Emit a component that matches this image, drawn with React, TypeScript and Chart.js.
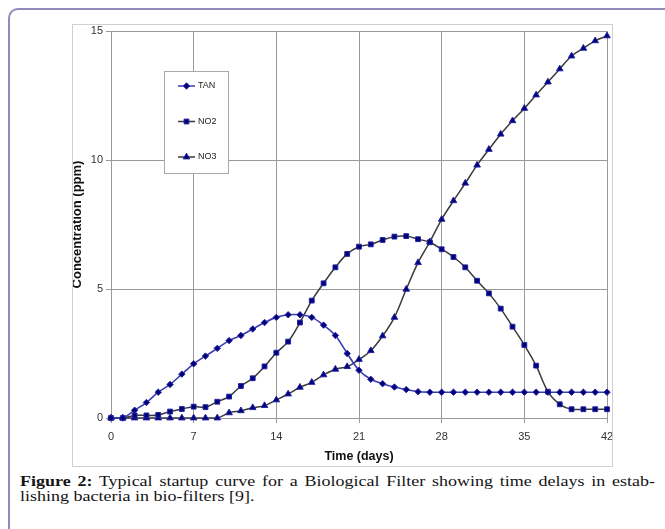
import React, { useEffect, useRef } from "react";
import { Chart, registerables } from "chart.js";

Chart.register(...registerables);

const days = [
  0, 1, 2, 3, 4, 5, 6, 7, 8, 9, 10, 11, 12, 13, 14, 15, 16, 17, 18, 19, 20,
  21, 22, 23, 24, 25, 26, 27, 28, 29, 30, 31, 32, 33, 34, 35, 36, 37, 38, 39,
  40, 41, 42,
];

const tan = [
  0, 0, 0.3, 0.6, 1.0, 1.3, 1.7, 2.1, 2.4, 2.7, 3.0, 3.2, 3.45, 3.7, 3.9, 4.0,
  4.0, 3.9, 3.6, 3.2, 2.5, 1.85, 1.5, 1.33, 1.2, 1.1, 1.02, 1.0, 1.0, 1.0, 1.0,
  1.0, 1.0, 1.0, 1.0, 1.0, 1.0, 1.0, 1.0, 1.0, 1.0, 1.0, 1.0,
];

const no2 = [
  0, 0, 0.1, 0.1, 0.12, 0.25, 0.35, 0.44, 0.42, 0.63, 0.83, 1.24, 1.54, 2.0,
  2.53, 2.96, 3.7, 4.55, 5.22, 5.84, 6.36, 6.64, 6.73, 6.9, 7.03, 7.05, 6.93,
  6.81, 6.54, 6.24, 5.84, 5.32, 4.83, 4.24, 3.54, 2.83, 2.03, 1.02, 0.53, 0.34,
  0.34, 0.34, 0.34,
];

const no3 = [
  0, 0, 0, 0, 0, 0, 0, 0, 0, 0, 0.2, 0.28, 0.4, 0.48, 0.7, 0.93, 1.19, 1.38,
  1.67, 1.89, 1.99, 2.27, 2.61, 3.18, 3.9, 4.99, 6.02, 6.83, 7.7, 8.42, 9.1,
  9.8, 10.41, 11.0, 11.52, 12.0, 12.52, 13.02, 13.53, 14.03, 14.33, 14.62,
  14.81,
];

const seriesNames = ["TAN", "NO2", "NO3"];
const xTicks = [0, 7, 14, 21, 28, 35, 42];
const yTicks = [0, 5, 10, 15];

const FAMILY = '"Liberation Sans", Arial, sans-serif';
const GRID = "#9a9a9a";
const MARK_FILL = "#00007a";
const MARK_EDGE = "#2424a0";

function drawMarker(ctx: CanvasRenderingContext2D, style: string, x: number, y: number, r: number) {
  ctx.beginPath();
  if (style === "rectRot") {
    ctx.moveTo(x, y - r);
    ctx.lineTo(x + r, y);
    ctx.lineTo(x, y + r);
    ctx.lineTo(x - r, y);
    ctx.closePath();
  } else if (style === "rect") {
    const s = r * Math.SQRT1_2;
    ctx.rect(x - s, y - s, 2 * s, 2 * s);
  } else {
    ctx.moveTo(x, y - r);
    ctx.lineTo(x + r * 0.87, y + r * 0.5);
    ctx.lineTo(x - r * 0.87, y + r * 0.5);
    ctx.closePath();
  }
  ctx.fillStyle = MARK_FILL;
  ctx.strokeStyle = MARK_EDGE;
  ctx.lineWidth = 1;
  ctx.fill();
  ctx.stroke();
}

const boxLegend = {
  id: "boxLegend",
  beforeDatasetsDraw(chart: any) {
    const { ctx, chartArea } = chart;
    const x = chartArea.left + 53;
    const y = chartArea.top + 40;
    const w = 64;
    const h = 102;
    ctx.save();
    ctx.fillStyle = "#ffffff";
    ctx.fillRect(x, y, w, h);
    ctx.strokeStyle = "#a8a8a8";
    ctx.lineWidth = 1;
    ctx.strokeRect(x + 0.5, y + 0.5, w, h);
    chart.data.datasets.forEach((ds: any, i: number) => {
      const cy = y + 15 + i * 35.5;
      ctx.strokeStyle = ds.borderColor;
      ctx.lineWidth = 1.5;
      ctx.beginPath();
      ctx.moveTo(x + 14, cy);
      ctx.lineTo(x + 31, cy);
      ctx.stroke();
      drawMarker(ctx, ds.pointStyle, x + 22.5, cy, ds.pointRadius);
      ctx.fillStyle = "#222";
      ctx.font = `9px ${FAMILY}`;
      ctx.textBaseline = "middle";
      ctx.textAlign = "left";
      ctx.fillText(ds.label, x + 34, cy);
    });
    ctx.restore();
  },
};

export default function App() {
  const ref = useRef<HTMLCanvasElement>(null);

  useEffect(() => {
    const mk = (vals: number[]) => days.map((d, i) => ({ x: d, y: vals[i] }));
    const chart = new Chart(ref.current as HTMLCanvasElement, {
      type: "line",
      data: {
        datasets: [
          {
            label: seriesNames[0],
            data: mk(tan),
            borderColor: "#3c3cb4",
            borderWidth: 1.6,
            pointStyle: "rectRot",
            pointRadius: 3.2,
            pointBackgroundColor: MARK_FILL,
            pointBorderColor: MARK_EDGE,
            pointBorderWidth: 1,
            tension: 0.35,
            clip: false,
          },
          {
            label: seriesNames[1],
            data: mk(no2),
            borderColor: "#3a3a3a",
            borderWidth: 1.5,
            pointStyle: "rect",
            pointRadius: 3.4,
            pointBackgroundColor: MARK_FILL,
            pointBorderColor: MARK_EDGE,
            pointBorderWidth: 1,
            tension: 0.35,
            clip: false,
          },
          {
            label: seriesNames[2],
            data: mk(no3),
            borderColor: "#3a3a3a",
            borderWidth: 1.5,
            pointStyle: "triangle",
            pointRadius: 3.8,
            pointBackgroundColor: MARK_FILL,
            pointBorderColor: MARK_EDGE,
            pointBorderWidth: 1,
            tension: 0.35,
            clip: false,
          },
        ] as any,
      },
      options: {
        animation: false,
        responsive: false,
        events: [],
        layout: { padding: { top: 6, right: 5, left: 0, bottom: 0 } },
        plugins: { legend: { display: false }, tooltip: { enabled: false } },
        scales: {
          x: {
            type: "linear",
            min: 0,
            max: 42,
            afterBuildTicks: (s: any) => {
              s.ticks = xTicks.map((v) => ({ value: v }));
            },
            ticks: {
              font: { size: 11, family: FAMILY },
              color: "#333",
              padding: 7,
              maxRotation: 0,
              autoSkip: false,
            },
            grid: { color: GRID, lineWidth: 1, tickLength: 5 },
            border: { color: GRID, width: 1 },
            title: {
              display: true,
              text: "Time (days)",
              font: { size: 12.5, weight: "bold", family: FAMILY },
              color: "#111",
              padding: { top: 0, bottom: 2 },
            },
            afterFit: (s: any) => {
              s.height = 48;
              s.paddingLeft = 0;
              s.paddingRight = 0;
            },
          },
          y: {
            type: "linear",
            min: 0,
            max: 15,
            afterBuildTicks: (s: any) => {
              s.ticks = yTicks.map((v) => ({ value: v }));
            },
            ticks: {
              font: { size: 11, family: FAMILY },
              color: "#333",
              padding: 3,
            },
            grid: { color: GRID, lineWidth: 1, tickLength: 5 },
            border: { color: GRID, width: 1 },
            title: {
              display: true,
              text: "Concentration (ppm)",
              font: { size: 13, weight: "bold", family: FAMILY, lineHeight: 1 },
              color: "#111",
              padding: { top: -2, bottom: 0 },
            },
            afterFit: (s: any) => {
              s.width = 38;
              s.paddingTop = 0;
              s.paddingBottom = 0;
            },
          },
        },
      } as any,
      plugins: [boxLegend],
    });
    return () => chart.destroy();
  }, []);

  return (
    <div
      style={{
        position: "fixed",
        left: 0,
        top: 0,
        width: 665,
        height: 529,
        overflow: "hidden",
        background: "#ffffff",
      }}
    >
      <div
        style={{
          position: "absolute",
          left: 8,
          top: 8,
          width: 720,
          height: 600,
          border: "2px solid #8f8bbd",
          borderRadius: 10,
          boxSizing: "border-box",
        }}
      />
      <div
        style={{
          position: "absolute",
          left: 72,
          top: 24,
          width: 539,
          height: 441,
          border: "1px solid #cfcfcf",
          background: "#ffffff",
        }}
      >
        <canvas ref={ref} width={539} height={441} style={{ display: "block", width: 539, height: 441 }} />
      </div>
      <div
        style={{
          position: "absolute",
          left: 20,
          top: 474,
          width: 635,
          fontFamily: '"Liberation Serif", "Times New Roman", serif',
          fontSize: 18,
          lineHeight: "17.6px",
          color: "#141414",
          transform: "scaleY(0.85)",
          transformOrigin: "top left",
        }}
      >
        <div style={{ textAlign: "justify", textAlignLast: "justify" }}>
          <b>Figure 2:</b> Typical startup curve for a Biological Filter showing time delays in estab-
        </div>
        <div>lishing bacteria in bio-filters [9].</div>
      </div>
    </div>
  );
}
